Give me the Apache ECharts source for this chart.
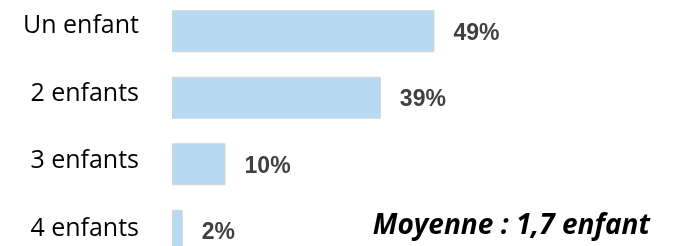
<!DOCTYPE html>
<html>
<head>
<meta charset="utf-8">
<script src="https://cdn.jsdelivr.net/npm/echarts@6/dist/echarts.min.js"></script>
<style>
  html, body { margin: 0; padding: 0; background: #ffffff; }
  #chart { width: 675px; height: 246px; }
</style>
</head>
<body>
<div id="chart"></div>
<script>
// Répartition du nombre d'enfants
const categories = ["Un enfant", "2 enfants", "3 enfants", "4 enfants"];
const shares = [49, 39, 10, 2];
const averageNote = "Moyenne : 1,7 enfant";

// the category names sit a little above the middle of their bar
const labelLift = [5, 4, 3, 2];

const nameStyles = {};
labelLift.forEach((lift, i) => {
    nameStyles["n" + i] = {
        color: "#000000",
        fontFamily: "Open Sans",
        fontSize: 25,
        padding: [0, 0, lift * 2, 0]
    };
});

const chart = echarts.init(document.getElementById("chart"), null, { renderer: "canvas" });

chart.setOption({
    animation: false,
    // the last bar runs off the bottom of the picture, so the grid does too
    grid: { left: 172, width: 482, top: -2, height: 266, outerBoundsMode: "none" },
    xAxis: {
        type: "value",
        min: 0,
        max: 90,
        show: false
    },
    yAxis: {
        type: "category",
        inverse: true,
        data: categories,
        axisLine: { show: false },
        axisTick: { show: false },
        splitLine: { show: false },
        axisLabel: {
            margin: 33,
            formatter: (value, i) => "{n" + i + "|" + value + "}",
            rich: nameStyles
        }
    },
    series: [{
        type: "bar",
        data: shares,
        barWidth: 42,
        itemStyle: {
            color: "#b8d9f2",
            borderColor: "#d2d2d2",
            borderWidth: 1
        },
        label: {
            show: true,
            position: "right",
            distance: 19,
            offset: [0, 2],
            formatter: "{c}%",
            color: "#404040",
            fontFamily: "Liberation Sans",
            fontWeight: "bold",
            fontSize: 23
        }
    }],
    graphic: [{
        type: "text",
        right: 25,
        top: 212,
        style: {
            text: averageNote,
            fontFamily: "Open Sans",
            fontStyle: "italic",
            fontWeight: "bold",
            fontSize: 28,
            fill: "#000000"
        }
    }]
});
</script>
</body>
</html>
